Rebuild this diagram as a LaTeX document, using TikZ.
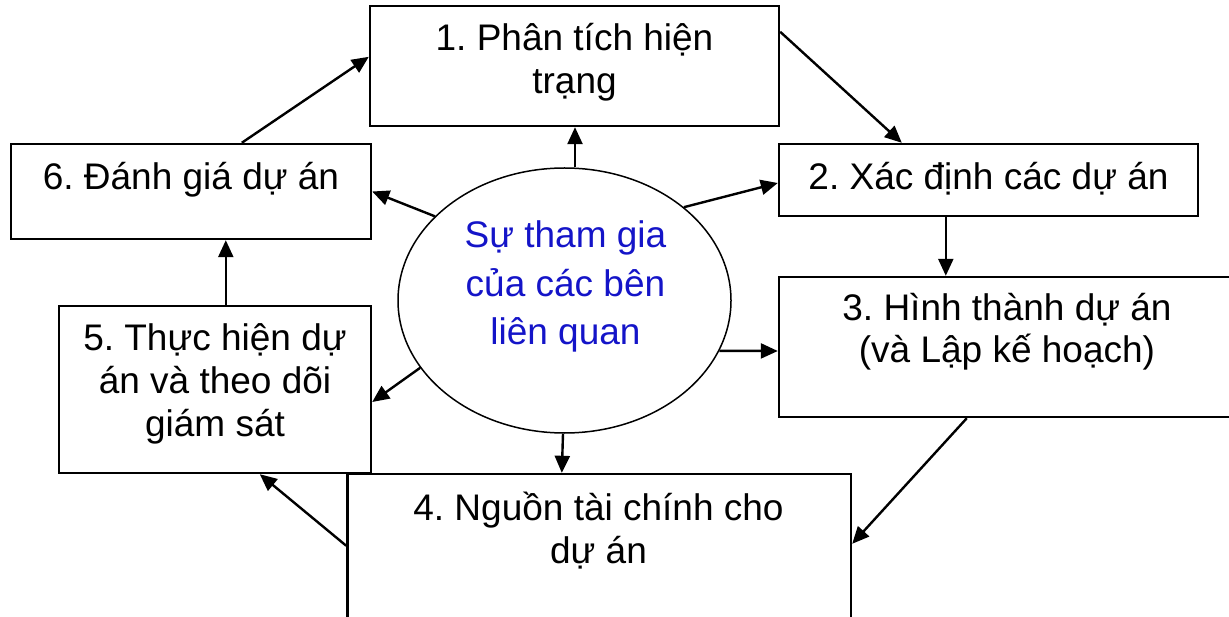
\documentclass[tikz,border=0pt]{standalone}
\usepackage{fontspec}
\setmainfont{Liberation Sans}
\frenchspacing
\usetikzlibrary{arrows.meta,shapes.geometric,calc}
\definecolor{elltext}{RGB}{20,20,200}
\tikzset{
  stepbox/.style={draw=black, line width=2.4pt, rectangle, inner sep=0pt, fill=white},
  centre/.style={draw=black, line width=1.5pt, ellipse, inner sep=0pt, minimum width=333pt, minimum height=265pt},
  txt/.style={anchor=base, inner sep=0pt, font=\fontsize{37}{43}\selectfont\frenchspacing},
  bluetxt/.style={txt, text=elltext},
  arr/.style={line width=2.4pt, -{Triangle[length=17pt,width=15pt]}}
}
\begin{document}
\begin{tikzpicture}[x=1pt,y=-1pt]
\useasboundingbox (0,0) rectangle (1229,617);
\clip (0,0) rectangle (1229,617);
% boxes
\node[stepbox, minimum width=409pt, minimum height=120pt] (b1) at (574.5,66) {};
\node[stepbox, minimum width=419pt, minimum height=72pt] (b2) at (988.5,180) {};
\node[stepbox, minimum width=456pt, minimum height=140pt] (b3) at (1007,347) {};
\node[stepbox, minimum width=503.5pt, minimum height=186pt] (b4) at (599.25,567) {};
\node[stepbox, minimum width=312pt, minimum height=167pt] (b5) at (215,389.5) {};
\node[stepbox, minimum width=360pt, minimum height=95pt] (b6) at (191,191.5) {};
\node[centre] (e) at (564.5,300.5) {};
% texts
\node[txt] (t1a) at (574.5,51) {1. Phân tích hiện};
\node[txt] (t1b) at (574.5,94) {trạng};
\node[txt] (t2) at (988.5,190) {2. Xác định các dự án};
\node[txt] (t3a) at (1007,321) {3. Hình thành dự án};
\node[txt] (t3b) at (1007,363) {(và Lập kế hoạch)};
\node[txt] (t4a) at (598.5,520) {4. Nguồn tài chính cho};
\node[txt] (t4b) at (598.5,563) {dự án};
\node[txt] (t5a) at (215,350.5) {5. Thực hiện dự};
\node[txt] (t5b) at (215,393.5) {án và theo dõi};
\node[txt] (t5c) at (215,436.5) {giám sát};
\node[txt] (t6) at (191,190) {6. Đánh giá dự án};
\node[bluetxt] (ea) at (565.5,248) {Sự tham gia};
\node[bluetxt] (eb) at (565.5,297) {của các bên};
\node[bluetxt] (ec) at (565.5,345) {liên quan};
% cycle arrows
\draw[arr] ($(b1.north east)+(0,27)$) -- ($(b2.north west)+(124,0)$);
\draw[arr] ($(b2.south west)+(168,0)$) -- ($(b3.north west)+(168,0)$);
\draw[arr] ($(b3.south west)+(189,0)$) -- ($(b4.north east)+(0,71)$);
\draw[arr] ($(b4.north west)+(0,73)$) -- ($(b5.south west)+(202,0)$);
\draw[arr] ($(b5.north west)+(168,0)$) -- ($(b6.south west)+(216,0)$);
\draw[arr] ($(b6.north west)+(232,0)$) -- ($(b1.north west)+(0,52)$);
% centre arrows
\draw[arr] ($(e.north)+(10.5,0)$) -- ($(b1.south)+(0.5,0)$);
\draw[arr] (e.38.6) -- ($(b2.west)+(0,3)$);
\draw[arr] (e.-18.2) -- ($(b3.west)+(0,4)$);
\draw[arr] ($(e.south)+(-1.5,0)$) -- ($(b4.north west)+(215.5,0)$);
\draw[arr] (e.205.2) -- ($(b5.east)+(0,12.5)$);
\draw[arr] (e.147.1) -- (b6.east);
\end{tikzpicture}
\end{document}
